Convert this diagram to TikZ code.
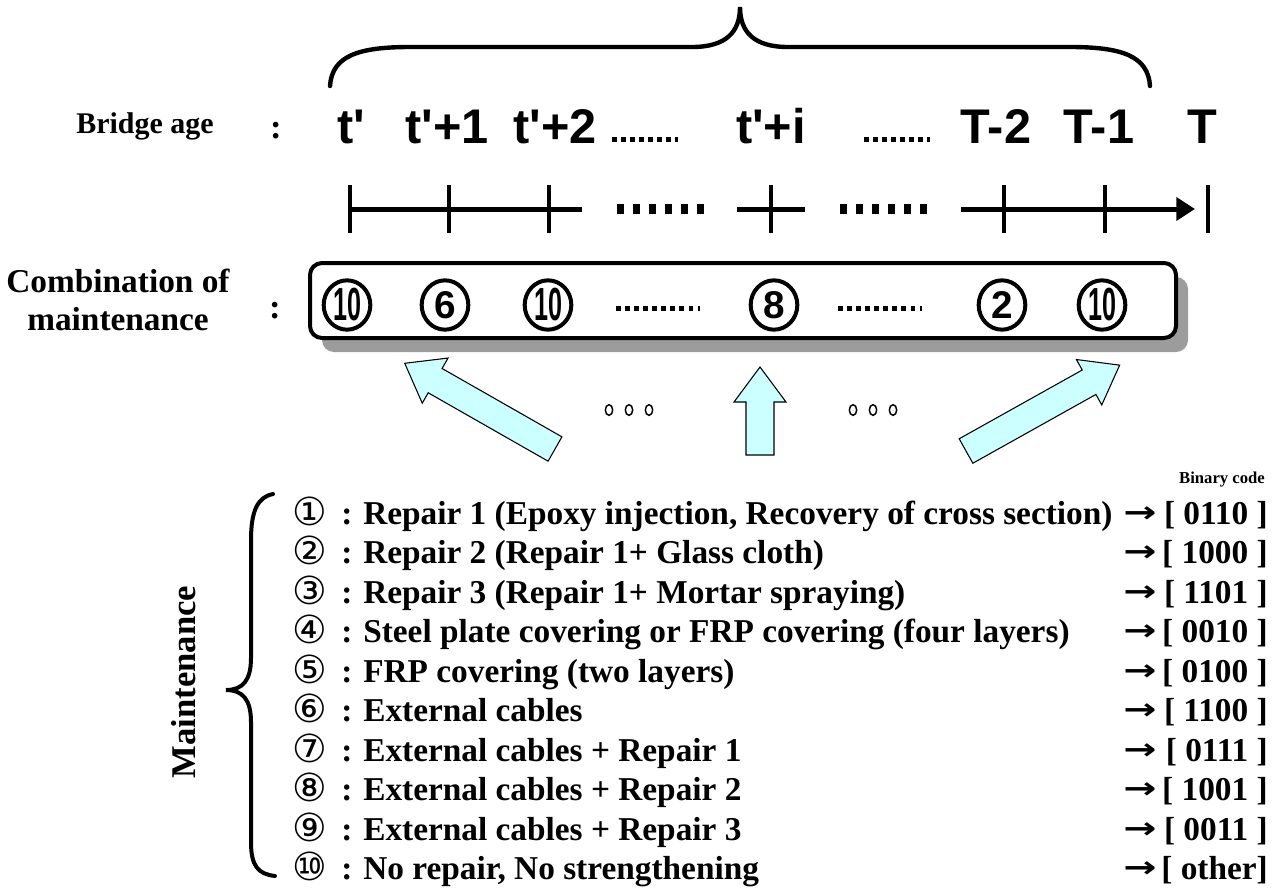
\documentclass[tikz,border=0pt]{standalone}
\usepackage{fontspec}
\setmainfont{Liberation Serif}
\newfontfamily\arialf{Liberation Sans}
\newfontfamily\dejavu{DejaVu Sans}
\usetikzlibrary{shapes.geometric,arrows.meta}
\definecolor{arrowfill}{HTML}{CCFFFF}
\definecolor{shadowgray}{HTML}{9C9C9C}
\tikzset{
  agelabel/.style={font=\arialf\bfseries\fontsize{36.5}{40}\selectfont, inner sep=0pt, anchor=base},
  sidelabel/.style={font=\bfseries\fontsize{22.5}{27}\selectfont, inner sep=0pt, align=center},
  cnum/.style={ellipse, draw, line width=3pt, minimum width=35pt, minimum height=37pt, inner sep=0pt, fill=white, font=\arialf\bfseries\fontsize{29}{29}\selectfont},
  listnum/.style={font=\dejavu\fontsize{29}{32}\selectfont, inner sep=0pt, anchor=base},
  listtxt/.style={font=\bfseries\fontsize{25}{30}\selectfont, inner sep=0pt, anchor=base west},
  codetxt/.style={font=\bfseries\fontsize{25}{30}\selectfont, inner sep=0pt, anchor=base east},
  arrtxt/.style={font=\dejavu\bfseries\fontsize{22}{24}\selectfont, inner sep=0pt, anchor=base west},
  colon/.style={font=\bfseries\fontsize{25}{30}\selectfont, inner sep=0pt, anchor=base},
  thickline/.style={line width=3.75pt},
  dotline/.style={line width=3.75pt, dash pattern=on 3.4pt off 3.4pt},
  tldots/.style={line width=7.5pt, dash pattern=on 5.4pt off 6.6pt},
  pics/barrow/.style={code={
    \draw[fill=arrowfill, line width=0.8pt, line join=miter]
      (0,-14) -- ({#1-35},-14) -- ({#1-35},-26) -- (#1,0) -- ({#1-35},26) -- ({#1-35},14) -- (0,14) -- cycle;}},
  smalldot/.style={ellipse, draw, line width=1.1pt, minimum width=5.5pt, minimum height=8pt, inner sep=0pt}
}
\begin{document}
\begin{tikzpicture}[x=0.75pt,y=-0.75pt]
\useasboundingbox (0,0) rectangle (1288,889);

% top brace
\draw[line width=3.3pt, line cap=round] (330,86) .. controls (332,56) and (358,47) .. (410,47) -- (692,47)
  .. controls (726,47) and (740,32) .. (740,7)
  .. controls (740,32) and (754,47) .. (788,47) -- (1070,47)
  .. controls (1122,47) and (1148,56) .. (1150,86);

% bridge age row
\node[sidelabel, anchor=base] (ba) at (145,133) {Bridge age};
\node[colon, font=\bfseries\fontsize{26}{26}\selectfont] (bacol) at (276,138) {:};
\node[agelabel] (a0) at (351,143) {t'};
\node[agelabel] (a1) at (447,143) {t'+1};
\node[agelabel] (a2) at (555,143) {t'+2};
\node[agelabel] (ai) at (771,143) {t'+i};
\node[agelabel] (aT2) at (996,143) {T-2};
\node[agelabel] (aT1) at (1099,143) {T-1};
\node[agelabel] (aT) at (1202,143) {T};
\draw[dotline] (612,139) -- (678,139);
\draw[dotline] (864,139) -- (930,139);

% timeline
\coordinate (l0) at (350,209);
\coordinate (l1) at (582,209);
\coordinate (m0) at (737,209);
\coordinate (m1) at (805,209);
\coordinate (r0) at (961,209);
\coordinate (r1) at (1195,209);
\draw[thickline] (l0) -- (l1);
\draw[thickline] (m0) -- (m1);
\draw[thickline, -{Triangle[length=14pt,width=17pt]}] (r0) -- (r1);
\foreach \x in {350,449,549,771,1004,1105}{
  \draw[line width=3pt] (\x,185) -- (\x,233);
}
\draw[line width=3.5pt] (1208,185) -- (1208,233);
\draw[tldots] (617,209) -- (708,209);
\draw[tldots] (840,209) -- (931,209);

% combination row
\node[sidelabel, font=\bfseries\fontsize{25}{28}\selectfont, anchor=base] (comb) at (118,292) {Combination of};
\node[sidelabel, font=\bfseries\fontsize{25}{28}\selectfont, anchor=base] (comb2) at (118,330) {maintenance};
\node[colon, font=\bfseries\fontsize{26}{26}\selectfont] (combcol) at (275,318) {:};
\fill[shadowgray, rounded corners=9pt] (322,277) rectangle (1188,352);
\draw[fill=white, line width=3pt, rounded corners=9pt] (310,263) rectangle (1176,338);
\node[cnum] (c1) at (347,305) {\scalebox{0.65}[1.2]{10}};
\node[cnum] (c2) at (445,305) {6};
\node[cnum] (c3) at (548,305) {\scalebox{0.65}[1.2]{10}};
\node[cnum] (c4) at (774,305) {8};
\node[cnum] (c5) at (1002,305) {2};
\node[cnum] (c6) at (1102,305) {\scalebox{0.65}[1.2]{10}};
\draw[dotline] (616,308) -- (700,308);
\draw[dotline] (838,308) -- (922,308);

% block arrows
\pic (arrL) [rotate=150.3] at (555,449) {barrow=173};
\pic (arrM) [rotate=90] at (760,455) {barrow=88};
\pic (arrR) [rotate=29.2] at (966,451) {barrow=176};
\foreach \x in {609,629,649}{ \node[smalldot] at (\x,410) {}; }
\foreach \x in {853,873,893}{ \node[smalldot] at (\x,410) {}; }

% maintenance list
\node[font=\bfseries\fontsize{12.5}{14}\selectfont, inner sep=0pt] (bin) at (1222,480) {Binary code};
\node[font=\bfseries\fontsize{26}{29}\selectfont, inner sep=0pt, rotate=90] (maint) at (184,682) {Maintenance};
\draw[line width=3pt, line cap=round] (273,494) .. controls (258,497) and (251,510) .. (251,540) -- (251,658)
  .. controls (251,680) and (243,690) .. (226,690)
  .. controls (243,690) and (251,700) .. (251,722) -- (251,842)
  .. controls (251,866) and (258,874) .. (275,876);

\foreach \i/\num/\txt/\code in {
  1/①/{Repair 1 (Epoxy injection, Recovery of cross section)}/{[ 0110 ]},
  2/②/{Repair 2 (Repair 1+ Glass cloth)}/{[ 1000 ]},
  3/③/{Repair 3 (Repair 1+ Mortar spraying)}/{[ 1101 ]},
  4/④/{Steel plate covering or FRP covering (four layers)}/{[ 0010 ]},
  5/⑤/{FRP covering (two layers)}/{[ 0100 ]},
  6/⑥/{External cables}/{[ 1100 ]},
  7/⑦/{External cables + Repair 1}/{[ 0111 ]},
  8/⑧/{External cables + Repair 2}/{[ 1001 ]},
  9/⑨/{External cables + Repair 3}/{[ 0011 ]},
  10/⑩/{No repair, No strengthening}/{[ other]}}{
  \pgfmathsetmacro{\yb}{524+39.5*(\i-1)}
  \node[listnum] (n\i) at (310,\yb+1) {\num};
  \node[colon] (k\i) at (347,\yb) {:};
  \node[listtxt] (t\i) at (363,\yb) {\txt};
  \node[arrtxt] (r\i) at (1123,\yb-2) {\scalebox{1.35}[1]{→}};
  \node[codetxt] (b\i) at (1268,\yb) {\code};
}
\end{tikzpicture}
\end{document}
